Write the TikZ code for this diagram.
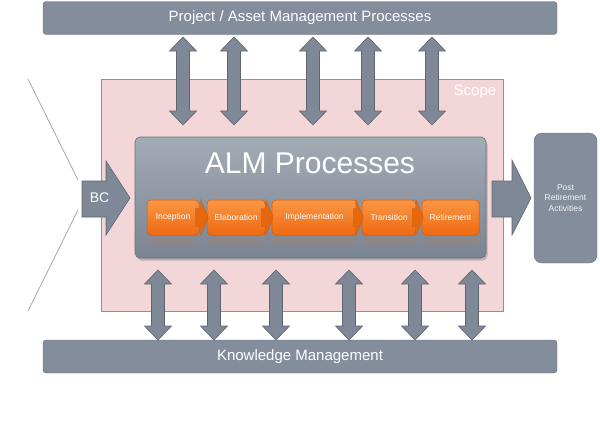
\documentclass[tikz,border=0pt]{standalone}
\usepackage{fontspec}
\setmainfont{Liberation Sans}
\usetikzlibrary{shadows,calc}
\definecolor{bargray}{HTML}{848D9B}
\definecolor{bardraw}{HTML}{6A727E}
\definecolor{arrfill}{HTML}{7F8896}
\definecolor{arrdraw}{HTML}{5E656F}
\definecolor{scopefill}{HTML}{F3D6D8}
\definecolor{scopedraw}{HTML}{8C9099}
\definecolor{almtop}{HTML}{A3ABB5}
\definecolor{almbot}{HTML}{7B8492}
\definecolor{almdraw}{HTML}{687180}
\definecolor{ortop}{HTML}{FA9645}
\definecolor{orbot}{HTML}{EE6A12}
\definecolor{ordraw}{HTML}{D35A0C}
\definecolor{orconnc}{HTML}{E5680F}
\definecolor{linec}{HTML}{A2A8B5}
\newcommand\vdarrow[3]{%
  \draw[dblarr] (#1-6.5,#2+14) -- (#1-13.5,#2+14) -- (#1,#2) -- (#1+13.5,#2+14)
    -- (#1+6.5,#2+14) -- (#1+6.5,#3-14) -- (#1+13.5,#3-14) -- (#1,#3)
    -- (#1-13.5,#3-14) -- (#1-6.5,#3-14) -- cycle;}
\newcommand\orconn[2]{%
  \draw[orconnstyle] ($(#1.east)+(-4,-9)$) -- ($(#2.west)+(-6,-9)$) -- ($(#2.west)+(-6,-18)$)
    -- ($(#2.west)+(1.5,0)$) -- ($(#2.west)+(-6,18)$) -- ($(#2.west)+(-6,9)$)
    -- ($(#1.east)+(-4,9)$) -- cycle;}
\begin{document}
\begin{tikzpicture}[x=1pt,y=-1pt,
  bar/.style={draw=bardraw, fill=bargray, rounded corners=3pt, text=white,
    font=\fontsize{15}{18}\selectfont, minimum width=514pt, minimum height=33pt, inner sep=0pt},
  dblarr/.style={draw=arrdraw, fill=arrfill, line width=0.6pt, line join=miter},
  fatarr/.style={draw=arrdraw, fill=arrfill, line width=0.6pt},
  phase/.style={draw=ordraw, line width=0.5pt, top color=ortop, bottom color=orbot,
    rounded corners=4pt, minimum height=35pt, inner sep=0pt, text=white,
    font=\fontsize{8.5}{10}\selectfont,
    drop shadow={shadow xshift=0.8pt, shadow yshift=-1pt, opacity=0.3}},
  orconnstyle/.style={draw=ordraw, fill=orconnc, line width=0.4pt},
  refl/.style={fill=orbot, opacity=0.10, draw=none}]
\useasboundingbox (0,0) rectangle (600,442);
% scope
\node[draw=scopedraw, fill=scopefill, line width=0.7pt, minimum width=402pt,
  minimum height=232pt, inner sep=0pt] (scope) at (302,195) {};
\node[text=white, font=\fontsize{15}{18}\selectfont, inner sep=0pt] (scopelbl) at (475,92) {Scope};
% bars
\node[bar] (pam) at (300,18) {Project / Asset Management Processes};
\node[bar] (km) at (300,356.5) {Knowledge Management};
% top double arrows
\foreach \x in {183,234,313,368,432} {\vdarrow{\x}{37}{125}}
% bottom double arrows
\foreach \x in {158,214,276,349,415,472} {\vdarrow{\x}{270}{340}}
% left lines
\coordinate (l1) at (28,79);
\coordinate (l2) at (78,180);
\coordinate (l3) at (78,210);
\coordinate (l4) at (28,311);
\draw[linec, line width=0.8pt] (l1) -- (l2);
\draw[linec, line width=0.8pt] (l3) -- (l4);
% BC arrow
\draw[fatarr] (82,181) -- (106,181) -- (106,161) -- (130,198) -- (106,235) -- (106,217) -- (82,217) -- cycle;
\node[text=white, font=\fontsize{14}{16}\selectfont, inner sep=0pt] (bc) at (99.5,198) {BC};
% ALM box
\node[draw=almdraw, line width=0.6pt, top color=almtop, bottom color=almbot,
  rounded corners=5pt, minimum width=351pt, minimum height=121pt, inner sep=0pt,
  drop shadow={shadow xshift=1.5pt, shadow yshift=-2.5pt, opacity=0.45}] (alm) at (310.5,197.5) {};
\node[text=white, font=\fontsize{30}{34}\selectfont, inner sep=0pt] (almtitle) at (310,163) {ALM Processes};
% reflections
\foreach \a/\w in {173/52,236/58,314.5/85,389/54,450.5/57}
  {\fill[refl] (\a-\w/2+2,237) rectangle (\a+\w/2-2,246);}
% phases
\node[phase, minimum width=52pt] (inc) at (173,217.5) {Inception};
\node[phase, minimum width=58pt] (ela) at (236,217.5) {Elaboration};
\node[phase, minimum width=85pt] (imp) at (314.5,217.5) {Implementation};
\node[phase, minimum width=54pt] (tra) at (389,217.5) {Transition};
\node[phase, minimum width=57pt] (ret) at (450.5,217.5) {Retirement};
\orconn{inc}{ela}
\orconn{ela}{imp}
\orconn{imp}{tra}
\orconn{tra}{ret}
% right arrow
\draw[fatarr] (492,181) -- (512,181) -- (512,160) -- (531,198) -- (512,235) -- (512,217) -- (492,217) -- cycle;
% post retirement box
\node[draw=bardraw, fill=bargray, rounded corners=8pt, minimum width=63pt,
  minimum height=130pt, inner sep=0pt, text=white!92!gray, align=center,
  font=\fontsize{8.5}{10.5}\selectfont] (post) at (565.5,198) {Post\\Retirement\\Activities};
\end{tikzpicture}
\end{document}
